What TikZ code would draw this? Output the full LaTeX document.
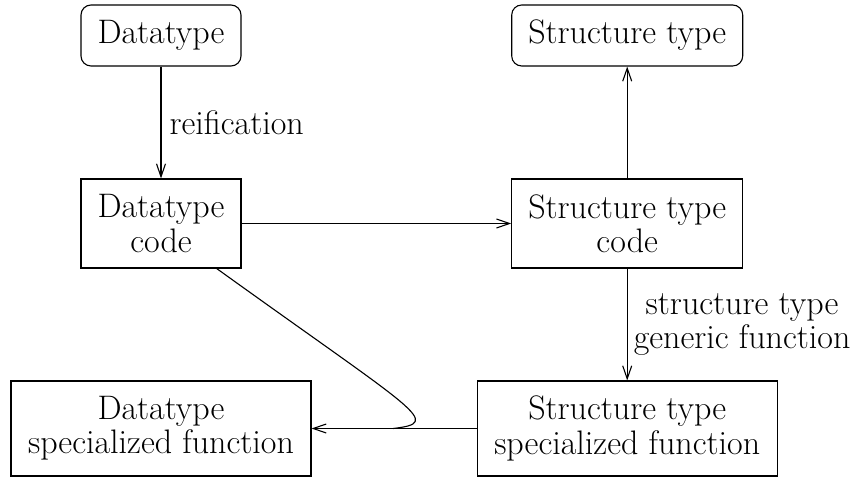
\documentclass[tikz,border=0pt]{standalone}
\usetikzlibrary{arrows.meta,calc}
\begin{document}
\begin{tikzpicture}[x=1pt,y=1pt,
  line width=0.55pt,
  every node/.style={font=\fontsize{17}{17.2}\selectfont, inner sep=0pt},
  box/.style={draw, align=center},
  rbox/.style={box, rounded corners=5pt},
  arr/.style={-{Straight Barb[length=6.5pt,width=4.5pt]}},
  lbl/.style={align=center, inner sep=4pt}
]
\useasboundingbox (0,0) rectangle (427,238);

% top row: the two types
\node[rbox, minimum width=80pt, minimum height=30.5pt] (dt) at (80.5,220.25) {Datatype};
\node[rbox, minimum width=115.5pt, minimum height=30.5pt] (st) at (313.6,220.25) {Structure type};

% middle row: their codes
\node[box, minimum width=80pt, minimum height=44.5pt] (dtc) at (80.5,126.25) {Datatype\\code};
\node[box, minimum width=115.5pt, minimum height=44.5pt] (stc) at (313.6,126.25) {Structure type\\code};

% bottom row: specialized functions
\node[box, minimum width=150pt, minimum height=47.5pt] (dsf) at (80.5,23.75) {Datatype\\specialized function};
\node[box, minimum width=150pt, minimum height=47.5pt] (ssf) at (313.6,23.75) {Structure type\\specialized function};

% connectors
\draw[arr] (dt) -- node[right, lbl] {reification} (dtc);
\draw[arr] (dtc) -- (stc);
\draw[arr] (stc) -- (st);
\draw[arr] (stc) -- node[right, lbl, inner sep=3pt] {structure type\\generic function} (ssf);
\draw[arr] (ssf) -- coordinate[pos=0.506] (join) (dsf);

% the datatype code feeds into the specialization arrow
\coordinate (dtcout) at ($(dtc.south)+(27.85pt,0)$);
\draw (dtcout) .. controls ($(dtcout)+(101.5pt,-73pt)$) and ($(join)+(25pt,3pt)$) .. (join);
\end{tikzpicture}
\end{document}
